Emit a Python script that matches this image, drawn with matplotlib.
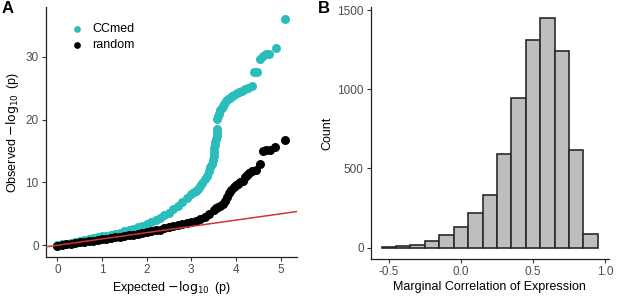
import numpy as np
import matplotlib
matplotlib.use('Agg')
import matplotlib.pyplot as plt

plt.rcParams['font.family'] = ['Liberation Sans', 'DejaVu Sans']

# panel A: QQ plot values
exp_ccmed = [0.0, 0.1, 0.2, 0.3, 0.4, 0.5, 0.6, 0.7, 0.8, 0.9, 1.0, 1.1, 1.2, 1.3,
             1.4, 1.5, 1.6, 1.7, 1.8, 1.9, 2.0, 2.1, 2.2, 2.3, 2.4, 2.5, 2.6, 2.7,
             2.8, 2.9, 3.0, 3.05, 3.1, 3.15, 3.2, 3.25, 3.3, 3.35, 3.4, 3.43,
             3.46, 3.48, 3.5, 3.51, 3.52, 3.53, 3.54, 3.55, 3.57, 3.57, 3.57,
             3.57, 3.59, 3.62, 3.65, 3.68, 3.7, 3.73, 3.77, 3.82, 3.87, 3.91,
             3.96, 4.02, 4.08, 4.14, 4.2, 4.27, 4.35, 4.4, 4.47, 4.53, 4.6,
             4.68, 4.75, 4.89, 5.11]
obs_ccmed = [0.0, 0.12, 0.25, 0.38, 0.52, 0.66, 0.8, 0.95, 1.1, 1.25, 1.4, 1.55,
             1.7, 1.85, 2.0, 2.2, 2.4, 2.6, 2.85, 3.1, 3.4, 3.7, 4.0, 4.35, 4.75,
             5.2, 5.75, 6.3, 6.9, 7.5, 8.1, 8.4, 8.7, 9.0, 9.4, 9.9, 10.5, 11.1,
             11.8, 12.4, 13.0, 13.6, 14.2, 14.8, 15.4, 16.0, 16.5, 16.9, 17.4,
             18.0, 18.5, 20.1, 20.5, 20.9, 21.5, 21.9, 22.2, 22.5, 22.9, 23.2,
             23.5, 23.7, 23.9, 24.2, 24.4, 24.6, 24.8, 25.0, 25.3, 27.6, 27.6,
             29.7, 30.1, 30.4, 30.5, 31.4, 36.0]

exp_random = [0.0, 0.1, 0.2, 0.3, 0.4, 0.5, 0.6, 0.7, 0.8, 0.9, 1.0, 1.1, 1.2,
              1.3, 1.4, 1.5, 1.6, 1.7, 1.8, 1.9, 2.0, 2.1, 2.2, 2.3, 2.4, 2.5,
              2.6, 2.7, 2.8, 2.9, 3.0, 3.1, 3.2, 3.3, 3.4, 3.5, 3.55, 3.6, 3.65,
              3.7, 3.75, 3.8, 3.85, 3.9, 3.95, 4.0, 4.05, 4.1, 4.15, 4.2, 4.25,
              4.3, 4.37, 4.44, 4.55, 4.6, 4.67, 4.76, 4.88, 5.11]
obs_random = [-0.05, 0.05, 0.15, 0.25, 0.35, 0.45, 0.55, 0.65, 0.75, 0.85, 0.95,
              1.05, 1.15, 1.25, 1.37, 1.5, 1.6, 1.7, 1.82, 1.94, 2.05, 2.2, 2.35,
              2.5, 2.7, 2.9, 3.05, 3.2, 3.35, 3.5, 3.65, 3.85, 4.1, 4.45, 5.0,
              5.6, 5.9, 6.1, 6.3, 6.6, 7.1, 7.7, 8.3, 8.8, 9.3, 9.6, 9.8, 10.0,
              10.3, 10.8, 11.2, 11.5, 11.8, 12.0, 12.9, 15.0, 15.1, 15.1, 15.6,
              16.7]

# panel B: histogram bins (width 0.1)
bin_centers = [-0.5, -0.4, -0.3, -0.2, -0.1, 0.0, 0.1, 0.2, 0.3, 0.4, 0.5, 0.6, 0.7, 0.8, 0.9]
bin_counts = [5, 8, 15, 40, 80, 130, 220, 330, 590, 945, 1310, 1450, 1240, 615, 85]

cyan = '#2bbcbc'
tick_col = '#4d4d4d'

fig = plt.figure(figsize=(6.18, 2.98), dpi=100)

def style(ax):
    for s in ['top', 'right']:
        ax.spines[s].set_visible(False)
    for s in ['left', 'bottom']:
        ax.spines[s].set_color('#222222')
        ax.spines[s].set_linewidth(0.9)
    ax.tick_params(length=3, width=0.8, color='#333333', labelcolor=tick_col,
                   labelsize=8.5, pad=2)

# --- A ---
ax1 = fig.add_axes([0.074, 0.137, 0.406, 0.839])
ax1.scatter(exp_ccmed, obs_ccmed, s=42, color=cyan, linewidths=0, label='CCmed', zorder=2)
ax1.scatter(exp_random, obs_random, s=42, color='black', linewidths=0, label='random', zorder=3)
ax1.axline((0, 0), slope=1, color='#d03434', lw=1.1, zorder=4)
ax1.set_xlim(-0.26, 5.36)
ax1.set_ylim(-1.9, 37.9)
ax1.set_xticks([0, 1, 2, 3, 4, 5])
ax1.set_yticks([0, 10, 20, 30])
style(ax1)
ax1.set_xlabel('Expected $-\\log_{10}$ (p)', fontsize=9, labelpad=2)
ax1.set_ylabel('Observed $-\\log_{10}$ (p)', fontsize=9, labelpad=3)
ax1.legend(loc='upper left', bbox_to_anchor=(0.03, 0.98), frameon=False, fontsize=9,
           handletextpad=0.2, labelspacing=0.3, markerscale=0.75)

# --- B ---
ax2 = fig.add_axes([0.600, 0.131, 0.385, 0.846])
ax2.bar(bin_centers, bin_counts, width=0.1, color='#bebebe', edgecolor='#2a2a2a',
        linewidth=1.2, zorder=2)
ax2.set_xlim(-0.625, 1.025)
ax2.set_ylim(-72, 1522)
ax2.set_xticks([-0.5, 0.0, 0.5, 1.0])
ax2.set_xticklabels(['-0.5', '0.0', '0.5', '1.0'])
ax2.set_yticks([0, 500, 1000, 1500])
style(ax2)
ax2.set_xlabel('Marginal Correlation of Expression', fontsize=9, labelpad=2)
ax2.set_ylabel('Count', fontsize=9, labelpad=3)

fig.text(0.002, 0.995, 'A', fontsize=12, fontweight='bold', va='top', ha='left')
fig.text(0.515, 0.995, 'B', fontsize=12, fontweight='bold', va='top', ha='left')

fig.savefig('out.png', dpi=100)
